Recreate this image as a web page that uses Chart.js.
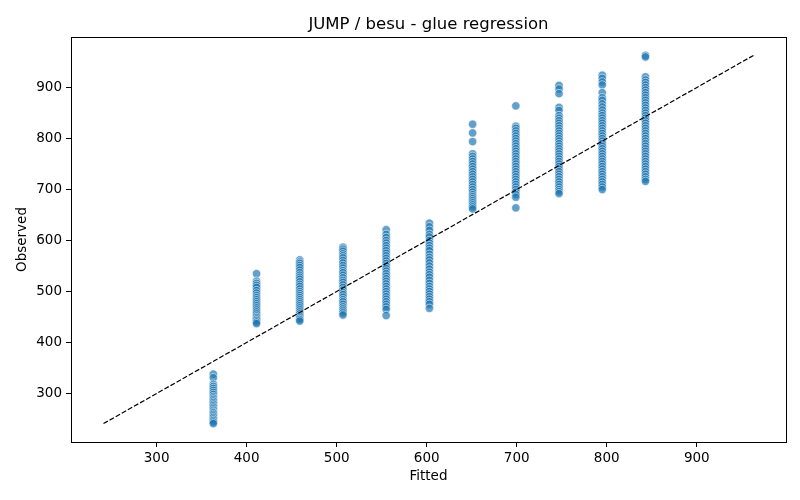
<!DOCTYPE html>
<html lang="en">
<head>
    <meta charset="utf-8">
    <title>JUMP / besu - glue regression</title>
    <script src="https://cdn.jsdelivr.net/npm/chart.js"></script>
    <style>
        html, body { margin: 0; padding: 0; background: #fff; }
        #wrap { width: 800px; height: 500px; }
    </style>
</head>
<body>
<div id="wrap"><canvas id="glueChart" width="800" height="500"></canvas></div>
<script>
    // fitted levels (x) and the observed values seen at each level (y)
    const fittedLevels = [363, 411, 459, 507, 555, 603, 651, 699, 747, 795, 843];

    const obs363 = [338, 331, 318, 314, 310, 306, 302, 298, 294, 291, 288, 285, 282, 279, 276, 273, 270, 267, 264, 262, 259, 256, 253, 250, 247, 244, 241];
    const obs411 = [535, 520, 516, 512, 508, 502, 497, 492, 488, 484, 480, 476, 472, 468, 464, 460, 456, 452, 449, 446, 443, 440, 437];
    const obs459 = [562, 558, 555, 551, 547, 542, 537, 532, 528, 524, 519, 514, 510, 505, 500, 496, 492, 488, 484, 480, 476, 472, 468, 464, 460, 456, 452, 448, 445, 442];
    const obs507 = [587, 583, 579, 574, 570, 566, 561, 556, 551, 546, 541, 537, 532, 527, 522, 518, 513, 508, 503, 498, 494, 489, 484, 480, 475, 470, 466, 462, 458, 454];
    const obs555 = [621, 612, 606, 600, 595, 590, 585, 580, 575, 570, 565, 560, 555, 550, 545, 540, 535, 530, 525, 520, 515, 510, 505, 500, 495, 490, 485, 480, 475, 470, 465, 453];
    const obs603 = [634, 627, 620, 612, 607, 600, 595, 590, 585, 580, 573, 567, 562, 556, 550, 544, 538, 533, 528, 522, 516, 510, 505, 500, 495, 490, 485, 480, 475, 467];
    const obs651 = [828, 811, 794, 770, 765, 760, 755, 750, 745, 740, 735, 730, 725, 720, 715, 710, 705, 700, 695, 690, 686, 682, 678, 674, 670, 666, 662];
    const obs699 = [864, 824, 820, 815, 810, 805, 800, 795, 790, 785, 780, 775, 770, 765, 760, 755, 750, 745, 740, 735, 730, 725, 720, 715, 710, 705, 700, 695, 690, 685, 664];
    const obs747 = [904, 897, 888, 861, 855, 845, 840, 835, 830, 825, 820, 815, 810, 805, 800, 795, 790, 785, 780, 775, 770, 765, 760, 755, 750, 745, 740, 735, 730, 725, 720, 715, 710, 705, 700, 696, 692];
    const obs795 = [924, 918, 911, 905, 890, 880, 875, 868, 862, 856, 850, 845, 840, 835, 830, 825, 820, 815, 810, 805, 800, 795, 790, 785, 780, 775, 770, 765, 760, 755, 750, 745, 740, 735, 730, 725, 720, 715, 710, 705, 700];
    const obs843 = [963, 960, 921, 915, 910, 905, 900, 895, 890, 885, 880, 875, 870, 865, 860, 855, 850, 845, 840, 835, 830, 825, 820, 815, 810, 805, 800, 795, 790, 785, 780, 775, 770, 765, 760, 755, 750, 745, 740, 735, 730, 725, 720, 716];

    const xTicks = [300, 400, 500, 600, 700, 800, 900];
    const yTicks = [300, 400, 500, 600, 700, 800, 900];

    const observedColumns = [obs363, obs411, obs459, obs507, obs555, obs603, obs651, obs699, obs747, obs795, obs843];

    const points = [];
    observedColumns.forEach((col, i) => {
        col.forEach(v => points.push({ x: fittedLevels[i], y: v }));
    });

    // identity line spans the min..max of everything plotted
    const allVals = points.map(p => p.y).concat(fittedLevels);
    const lo = Math.min(...allVals);
    const hi = Math.max(...allVals);
    const pad = (hi - lo) * 0.05;

    const font = "'DejaVu Sans', sans-serif";
    const chartTitle = 'JUMP / besu - glue regression';

    // axes box on all four sides + title centred over the plot area
    const frame = {
        id: 'frame',
        afterDraw(chart) {
            const a = chart.chartArea;
            const c = chart.ctx;
            c.save();
            c.strokeStyle = '#000';
            c.lineWidth = 1;
            c.strokeRect(a.left + 0.5, a.top + 0.5, a.right - a.left, a.bottom - a.top);
            c.fillStyle = '#000';
            c.font = "16.5px 'DejaVu Sans', sans-serif";
            c.textAlign = 'center';
            c.textBaseline = 'alphabetic';
            c.fillText(chartTitle, (a.left + a.right) / 2, 29);
            c.restore();
        }
    };

    new Chart(document.getElementById('glueChart'), {
        type: 'scatter',
        data: {
            datasets: [
                {
                    type: 'line',
                    data: [{ x: lo, y: lo }, { x: hi, y: hi }],
                    borderColor: '#000',
                    borderWidth: 1.2,
                    borderDash: [5, 2],
                    pointRadius: 0,
                    fill: false,
                    order: 0
                },
                {
                    data: points,
                    backgroundColor: 'rgba(31, 119, 180, 0.7)',
                    borderColor: 'rgba(255, 255, 255, 0.7)',
                    borderWidth: 0.8,
                    pointRadius: 4.2,
                    order: 1
                }
            ]
        },
        options: {
            responsive: false,
            animation: false,
            layout: { padding: { left: 0, right: 14, top: 37, bottom: 0 } },
            plugins: {
                legend: { display: false },
                tooltip: { enabled: false },
                title: { display: false }
            },
            scales: {
                x: {
                    type: 'linear',
                    min: lo - pad,
                    max: hi + pad,
                    afterBuildTicks: s => { s.ticks = xTicks.map(v => ({ value: v })); },
                    afterFit: s => { s.height = 58; },
                    grid: { drawOnChartArea: false, drawTicks: true, tickLength: 5, color: '#000' },
                    border: { display: false },
                    ticks: { color: '#000', padding: 3, font: { family: font, size: 13.5 } },
                    title: {
                        display: true,
                        text: 'Fitted',
                        color: '#000',
                        font: { family: font, size: 13.5 },
                        padding: { top: 0, bottom: 15 }
                    }
                },
                y: {
                    type: 'linear',
                    min: lo - pad,
                    max: hi + pad,
                    afterBuildTicks: s => { s.ticks = yTicks.map(v => ({ value: v })); },
                    afterFit: s => { s.width = 71; },
                    grid: { drawOnChartArea: false, drawTicks: true, tickLength: 5, color: '#000' },
                    border: { display: false },
                    ticks: { color: '#000', padding: 4, font: { family: font, size: 13.5 } },
                    title: {
                        display: true,
                        text: 'Observed',
                        color: '#000',
                        font: { family: font, size: 13.5 },
                        padding: { top: 14, bottom: 0 }
                    }
                }
            }
        },
        plugins: [frame]
    });
</script>
</body>
</html>
